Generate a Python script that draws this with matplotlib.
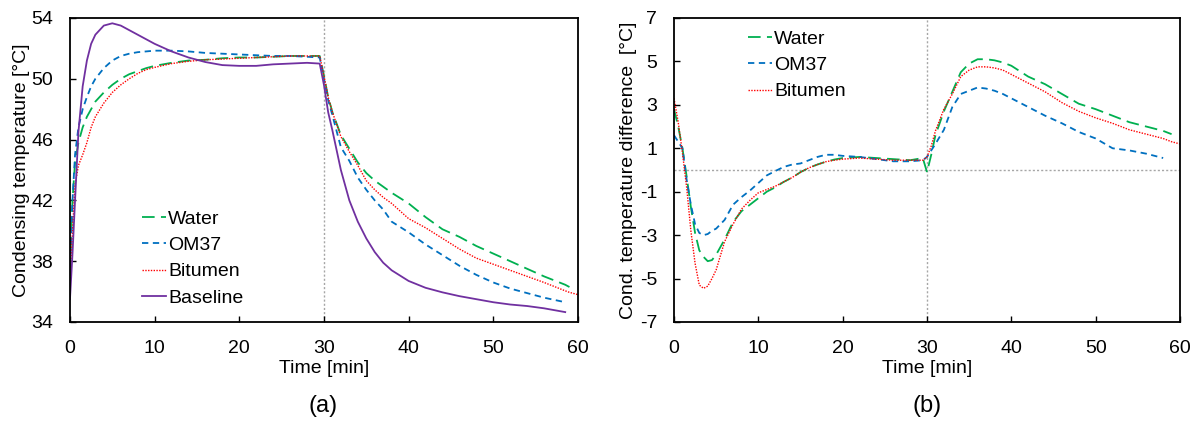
import numpy as np
import matplotlib.pyplot as plt

plt.rcParams['font.family'] = ['Liberation Sans', 'DejaVu Sans']
plt.rcParams['font.size'] = 14
plt.rcParams['axes.unicode_minus'] = False

nan = np.nan

# (a) condensing temperature
t_a = [0, 0.3, 0.6, 1, 1.5, 2, 2.5, 3, 4, 5, 6, 7, 8, 9, 10, 12, 14, 16, 18, 20,
       22, 24, 26, 28, 29.5, 30, 30.5, 31, 32, 33, 34, 35, 36, 37, 38, 40, 42, 44,
       46, 48, 50, 52, 54, 56, 58.5, 59, 60]
water_a = [37.5, 42, 44.5, 45.8, 46.8, 47.5, 48.0, 48.5, 49.1, 49.6, 50.0, 50.3, 50.5,
           50.7, 50.85, 51.05, 51.2, 51.25, 51.35, 51.4, 51.4, 51.45, 51.5, 51.5, 51.5,
           50.2, 48.8, 47.8, 46.3, 45.4, 44.5, 43.8, 43.3, 42.9, 42.5, 41.8, 40.9, 40.1,
           39.6, 39.0, 38.5, 38.0, 37.5, 37.0, 36.45, 36.3, nan]
om37_a = [37, 42, 45, 46.8, 48.0, 48.8, 49.5, 50.0, 50.7, 51.2, 51.5, 51.65, 51.75,
          51.8, 51.85, 51.85, 51.8, 51.7, 51.65, 51.6, 51.55, 51.5, 51.5, 51.45, 51.4,
          50.0, 48.6, 47.6, 45.5, 44.6, 43.5, 42.7, 42.0, 41.4, 40.6, 39.9, 39.1, 38.4,
          37.7, 37.1, 36.6, 36.2, 35.9, 35.6, 35.3, nan, nan]
bitumen_a = [36.5, 40, 43, 44.3, 45.0, 45.8, 46.8, 47.5, 48.4, 49.1, 49.6, 50.0, 50.35,
             50.6, 50.75, 51.0, 51.15, 51.25, 51.3, 51.35, 51.4, 51.45, 51.5, 51.5, 51.5,
             50.2, 48.8, 47.8, 46.2, 45.2, 44.3, 43.3, 42.7, 42.2, 41.8, 40.8, 40.2, 39.5,
             38.8, 38.2, 37.8, 37.4, 37.0, 36.6, 36.05, 35.95, 35.8]
baseline_a = [35.5, 38.5, 42, 46.5, 49.5, 51.2, 52.3, 52.9, 53.5, 53.65, 53.5, 53.2, 52.9,
              52.6, 52.3, 51.8, 51.4, 51.1, 50.9, 50.85, 50.85, 50.95, 51.0, 51.05, 51.0,
              49.6, 47.8, 46.6, 44.0, 42.0, 40.6, 39.5, 38.6, 37.9, 37.4, 36.7, 36.25,
              35.95, 35.7, 35.5, 35.3, 35.15, 35.05, 34.9, 34.65, nan, nan]

# (b) condensing temperature difference
t_b = [0, 0.5, 1, 1.5, 2, 2.5, 3, 3.5, 4, 4.5, 5, 6, 7, 8, 9, 10, 11, 12, 13, 14, 15,
       16, 17, 18, 19, 20, 22, 24, 26, 28, 29.5, 30, 30.5, 31, 32, 33, 34, 35, 36, 37,
       38, 39, 40, 42, 44, 46, 48, 50, 52, 54, 56, 58, 59, 60]
water_b = [2.8, 2.0, 1.0, -0.3, -1.7, -2.9, -3.7, -4.0, -4.2, -4.15, -3.9, -3.2, -2.4,
           -1.9, -1.6, -1.3, -1.0, -0.8, -0.55, -0.35, -0.1, 0.1, 0.25, 0.38, 0.48, 0.55,
           0.6, 0.55, 0.5, 0.45, 0.55, -0.1, 0.7, 1.6, 2.7, 3.6, 4.5, 4.9, 5.1, 5.1, 5.05,
           4.95, 4.8, 4.3, 3.95, 3.5, 3.05, 2.8, 2.5, 2.2, 2.0, 1.8, 1.65, nan]
om37_b = [1.6, 1.3, 1.0, -0.45, -1.6, -2.5, -2.9, -3.0, -2.95, -2.8, -2.7, -2.3, -1.6,
          -1.25, -0.95, -0.6, -0.25, -0.05, 0.14, 0.25, 0.3, 0.45, 0.6, 0.7, 0.7, 0.65,
          0.6, 0.5, 0.4, 0.4, 0.45, 0.6, 0.9, 1.2, 1.85, 2.9, 3.5, 3.65, 3.8, 3.75, 3.65,
          3.5, 3.3, 2.9, 2.5, 2.15, 1.75, 1.45, 1.0, 0.9, 0.75, 0.55, nan, nan]
bitumen_b = [3.3, 2.2, 0.8, -0.8, -2.8, -4.3, -5.3, -5.45, -5.35, -5.0, -4.6, -3.3, -2.5,
             -1.8, -1.4, -1.05, -0.9, -0.75, -0.55, -0.35, -0.1, 0.1, 0.25, 0.38, 0.45,
             0.5, 0.55, 0.5, 0.45, 0.45, 0.45, 0.6, 1.1, 1.8, 2.8, 3.5, 4.3, 4.6, 4.75,
             4.75, 4.7, 4.6, 4.4, 4.0, 3.6, 3.1, 2.7, 2.4, 2.15, 1.85, 1.65, 1.45, 1.3, 1.2]

green = '#00B050'
blue = '#0070C0'
red = '#FF0000'
purple = '#7030A0'

fig = plt.figure(figsize=(11.98, 4.23), dpi=100)
ax1 = fig.add_axes([0.0584, 0.2388, 0.424, 0.7187])
ax2 = fig.add_axes([0.5626, 0.2388, 0.4224, 0.7187])

leg_kw = dict(loc='upper left', frameon=False, handlelength=1.25, handletextpad=0.1,
              labelspacing=0.45, borderaxespad=0, borderpad=0)

ax1.plot(t_a, water_a, color=green, lw=1.3, dashes=(7, 3.5), label='Water')
ax1.plot(t_a, om37_a, color=blue, lw=1.3, dashes=(3.5, 2.5), label='OM37')
ax1.plot(t_a, bitumen_a, color=red, lw=1.0, dashes=(1, 1), label='Bitumen')
ax1.plot(t_a, baseline_a, color=purple, lw=1.3, label='Baseline')
ax1.axvline(30, color='#A6A6A6', lw=1, ls=(0, (1.5, 1.5)), zorder=0)
ax1.set_xlim(0, 60)
ax1.set_ylim(34, 54)
ax1.set_xticks(range(0, 61, 10))
ax1.set_yticks(range(34, 55, 4))
ax1.set_xlabel('Time [min]', labelpad=2)
ax1.set_ylabel('Condensing temperature [°C]', labelpad=1)
ax1.legend(bbox_to_anchor=(0.142, 0.368), **leg_kw)

ax2.plot(t_b, water_b, color=green, lw=1.3, dashes=(7, 3.5), label='Water')
ax2.plot(t_b, om37_b, color=blue, lw=1.3, dashes=(3.5, 2.5), label='OM37')
ax2.plot(t_b, bitumen_b, color=red, lw=1.0, dashes=(1, 1), label='Bitumen')
ax2.axvline(30, color='#A6A6A6', lw=1, ls=(0, (1.5, 1.5)), zorder=0)
ax2.axhline(0, color='#A6A6A6', lw=1, ls=(0, (1.5, 1.5)), zorder=0)
ax2.set_xlim(0, 60)
ax2.set_ylim(-7, 7)
ax2.set_xticks(range(0, 61, 10))
ax2.set_yticks(range(-7, 8, 2))
ax2.set_xlabel('Time [min]', labelpad=2)
ax2.set_ylabel('Cond. temperature difference  [°C]', labelpad=2)
ax2.legend(bbox_to_anchor=(0.146, 0.96), **leg_kw)

for ax in (ax1, ax2):
    ax.tick_params(direction='in', length=4, width=1, labelsize=14)
    ax.tick_params(axis='x', pad=13)
    ax.tick_params(axis='y', pad=12)
    for s in ax.spines.values():
        s.set_linewidth(1.3)
        s.set_color('black')

fig.text(0.27, 0.04, '(a)', ha='center', va='center', fontsize=17)
fig.text(0.774, 0.04, '(b)', ha='center', va='center', fontsize=17)

fig.savefig('out.png', dpi=100)
